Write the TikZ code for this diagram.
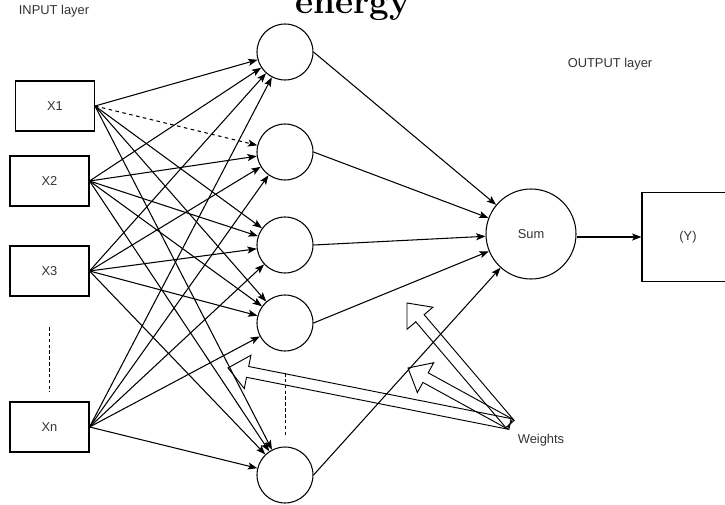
\documentclass[tikz,border=0pt]{standalone}
\usepackage{fontspec}
\setsansfont{Liberation Sans}
\usepackage{tikz}
\usetikzlibrary{calc, arrows.meta, positioning}
\definecolor{labelgray}{rgb}{0.2, 0.2, 0.2}

\tikzset{
	lbl/.style={font=\sffamily\fontsize{11}{13}\selectfont, text=labelgray},
	inbox/.style={draw, line width=0.9pt, minimum width=2.37cm, minimum height=1.5cm, inner sep=0pt, lbl},
	hidnode/.style={draw, circle, line width=0.9pt, minimum size=1.68cm, inner sep=0pt},
	sumnode/.style={draw, circle, line width=0.9pt, minimum size=2.7cm, inner sep=0pt, lbl},
	outbox/.style={draw, line width=0.9pt, minimum width=2.76cm, minimum height=2.67cm, inner sep=0pt, lbl},
	conn/.style={line width=0.9pt, -{Stealth[length=8pt, width=6pt, inset=1.8pt]}},
	vdots/.style={line width=0.8pt, dash pattern=on 3pt off 2pt},
	weightarrow/.style={line width=0.8pt, line join=miter}
}

%% hollow block arrow from #1 to #2
\newcommand{\weightarrow}[2]{%
	\coordinate (wh) at ($(#2)!0.6cm!(#1)$);
	\draw[weightarrow] ($(#1)!0.165cm!90:(#2)$) -- ($(wh)!0.165cm!90:(#2)$) -- ($(wh)!0.51cm!90:(#2)$) -- (#2) -- ($(wh)!0.51cm!-90:(#2)$) -- ($(wh)!0.165cm!-90:(#2)$) -- ($(#1)!0.165cm!-90:(#2)$) -- cycle;
}

\begin{document}
\begin{tikzpicture}[x=0.03cm, y=-0.03cm]
	\useasboundingbox (0,0) rectangle (725,505);
	\node[anchor=base, font=\rmfamily\bfseries\fontsize{30}{30}\selectfont] (title) at (352.5,14) {energy};
	\node[lbl] (inlayer) at (54,11) {INPUT layer};
	\node[lbl] (outlayer) at (610,64) {OUTPUT layer};
	\node[lbl] (wlabel) at (541,440) {Weights};

	\node[inbox] (x1) at (55,106) {X1};
	\node[inbox] (x2) at (49.5,181) {X2};
	\node[inbox] (x3) at (49.5,271) {X3};
	\node[inbox] (xn) at (49.5,427) {Xn};

	\foreach \n/\y in {1/52, 2/152, 3/245, 4/323, 5/475}
		\node[hidnode] (h\n) at (285,\y) {};

	\node[sumnode] (sum) at (531,234) {Sum};
	\node[outbox] (y) at (688,237) {(Y)};

	%% input -> hidden
	\foreach \s in {x2,x3,xn}
		\foreach \n in {1,...,5}
			\draw[conn] (\s.east) -- (h\n);
	\foreach \n in {1,3,4,5}
		\draw[conn] (x1.east) -- (h\n);
	\draw[conn, dashed] (x1.east) -- (h2);

	%% hidden -> sum -> output
	\foreach \n in {1,...,5}
		\draw[conn] (h\n.east) -- (sum);
	\draw[conn] (sum.east |- y.west) -- (y.west);

	\coordinate (xdota) at (49,327);
	\coordinate (xdotb) at (49,392);
	\coordinate (hdota) at (285,373);
	\coordinate (hdotb) at (285,437);
	\draw[vdots] (xdota) -- (xdotb);
	\draw[vdots] (hdota) -- (hdotb);

	\coordinate (wbase) at (510,424);
	\coordinate (wtipa) at (407,303);
	\coordinate (wtipb) at (408,368);
	\coordinate (wtipc) at (228,368);
	\weightarrow{wbase}{wtipa}
	\weightarrow{wbase}{wtipb}
	\weightarrow{wbase}{wtipc}
\end{tikzpicture}
\end{document}
